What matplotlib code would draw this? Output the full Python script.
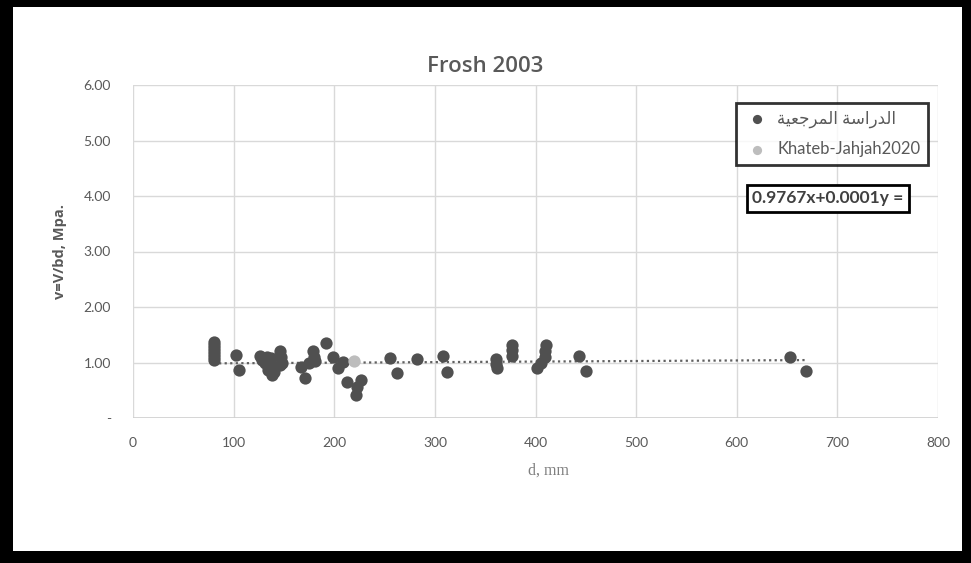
import matplotlib
matplotlib.use("Agg")
import matplotlib.pyplot as plt
from matplotlib.patches import Rectangle
import numpy as np

plt.rcParams['font.family'] = ['Lato', 'DejaVu Sans']

# Reference study (dark markers)
ref_d = [80, 80, 80, 80, 80, 80, 80,
         102, 105,
         126, 128, 131, 133, 134, 136, 137.5, 138, 140,
         146, 147, 148, 146,
         167, 171, 175,
         179, 180, 181,
         192, 198.5, 203.5, 208.5, 213, 222, 223, 227,
         255, 262, 282, 308, 312,
         361, 361, 362,
         377, 377, 377,
         401, 405, 409, 409, 410,
         443, 450,
         653, 669]
ref_v = [1.05, 1.10, 1.16, 1.21, 1.26, 1.31, 1.37,
         1.13, 0.86,
         1.12, 1.05, 0.99, 1.10, 0.86, 0.93, 1.08, 0.77, 0.82,
         1.20, 1.10, 1.00, 0.95,
         0.92, 0.72, 1.00,
         1.20, 1.10, 1.02,
         1.35, 1.10, 0.90, 1.01, 0.65, 0.41, 0.55, 0.68,
         1.08, 0.81, 1.06, 1.12, 0.83,
         1.06, 0.97, 0.90,
         1.12, 1.22, 1.32,
         0.90, 1.00, 1.10, 1.20, 1.32,
         1.12, 0.84,
         1.10, 0.84]

# Khateb-Jahjah2020 (light markers)
kj_d = [220]
kj_v = [1.02]

# Trendline coefficients
trend_slope = 0.0001
trend_intercept = 0.9767

x_ticks = [0, 100, 200, 300, 400, 500, 600, 700, 800]
y_ticks = [0, 1, 2, 3, 4, 5, 6]
y_tick_labels = ['-', '1.00', '2.00', '3.00', '4.00', '5.00', '6.00']

title = "Frosh 2003"
x_label = "d, mm"
y_label = "v=V/bd, Mpa."
# Arabic label "الدراسة المرجعية" written in shaped visual order
ref_label = "\ufe94\ufef4\ufecc\ufe9f\ufeae\ufee4\ufedf\ufe8d \ufe94\ufeb3\ufe8d\ufead\ufeaa\ufedf\ufe8d"
kj_label = "Khateb-Jahjah2020"
eq_text = "0.9767x+0.0001y ="

W, H = 971, 563
fig = plt.figure(figsize=(W / 100, H / 100), dpi=100)
fig.patch.set_facecolor('white')

ax = fig.add_axes([133 / W, 1 - 418 / H, (938 - 133) / W, (418 - 85) / H])
ax.set_xlim(0, 800)
ax.set_ylim(0, 6)
ax.set_xticks(x_ticks)
ax.set_yticks(y_ticks)
ax.set_yticklabels(y_tick_labels)
ax.grid(True, color='#d9d9d9', linewidth=1.0)
ax.set_axisbelow(True)
for s in ax.spines.values():
    s.set_visible(False)
ax.axhline(0, color='#d0d0d0', linewidth=1.2, zorder=1)
ax.tick_params(length=0, colors='#595959', labelsize=10, pad=14)
ax.tick_params(axis='y', pad=16)

ax.scatter(ref_d, ref_v, s=78, color='#505050', zorder=3, label=ref_label, linewidths=0)
ax.scatter(kj_d, kj_v, s=78, color='#bdbdbd', zorder=4, label=kj_label, linewidths=0)

xs = np.array([min(ref_d + kj_d), max(ref_d + kj_d)])
ax.plot(xs, trend_slope * xs + trend_intercept, linestyle=(0, (1, 1.5)),
        color='#606060', linewidth=1.6, zorder=2)

fig.text(485 / W, 1 - 67 / H, title, ha='center', va='center',
         fontsize=16, color='#595959', fontweight='semibold', family=['Open Sans', 'DejaVu Sans'])
fig.text(548 / W, 1 - 471 / H, x_label, ha='center', va='center',
         fontsize=11.5, color='#7f7f7f', family=['Liberation Serif', 'DejaVu Serif'])
fig.text(60 / W, 1 - 252 / H, y_label, ha='center', va='center', rotation=90,
         fontsize=10.5, color='#595959', fontweight='bold', family=['Open Sans', 'DejaVu Sans'])

leg = ax.legend(loc='upper right', bbox_to_anchor=((928 - 133) / 805, (418 - 103) / 333),
                frameon=True, fancybox=False, edgecolor='black',
                markerscale=0.75, handletextpad=0.45, borderpad=0.45, labelspacing=0.8,
                handlelength=1.6, borderaxespad=0,
                prop={'family': ['Lato', 'DejaVu Sans'], 'size': 12})
leg.get_frame().set_linewidth(2.0)
for t in leg.get_texts():
    t.set_color('#595959')

ax.text((828 - 133) / 805, (418 - 198.5) / 333, eq_text, transform=ax.transAxes,
        ha='center', va='center', fontsize=12.5, color='#404040', fontweight='bold',
        bbox=dict(boxstyle='square,pad=0.3', facecolor='white', edgecolor='black', linewidth=2.0))

# black frame around the image
for (x0, y0, w, h) in [(0, 0, 13, H), (0, 0, W, 7), (W - 9, 0, 9, H), (0, H - 12, W, 12)]:
    fig.patches.append(Rectangle((x0 / W, 1 - (y0 + h) / H), w / W, h / H,
                                 transform=fig.transFigure, facecolor='black',
                                 edgecolor='none', zorder=10))

fig.savefig('out.png', dpi=100)
